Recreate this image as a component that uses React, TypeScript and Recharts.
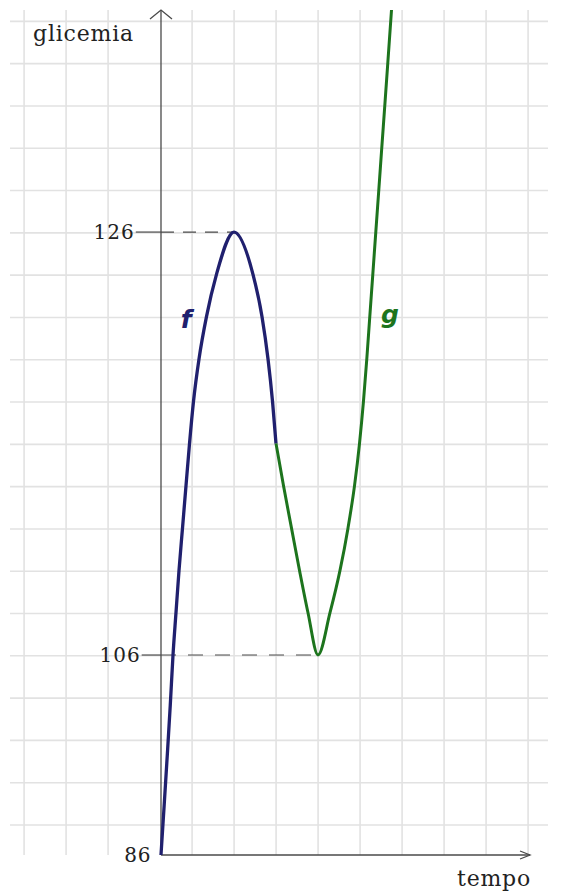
import {
  CartesianGrid,
  Line,
  LineChart,
  ReferenceDot,
  ReferenceLine,
  XAxis,
  YAxis,
} from "recharts";

// tempo in quadretti dall'asse y, glicemia
const fTempo = [0, 0.076, 0.15, 0.221, 0.286, 0.357, 0.429, 0.512, 0.595, 0.679, 0.774, 0.905, 1.083, 1.321, 1.738, 2.19, 2.405, 2.548, 2.655, 2.738];
const fGlicemia = [86, 91, 96, 101, 106, 108, 110, 112, 114, 116, 118, 120, 122, 124, 126, 124, 122, 120, 118, 116];

const gTempo = [2.738, 2.917, 3.107, 3.298, 3.5, 3.738, 4.024, 4.262, 4.452, 4.607, 4.726, 4.821, 4.9, 4.971, 5.043, 5.114, 5.186, 5.257, 5.329, 5.4, 5.488];
const gGlicemia = [116, 114, 112, 110, 108, 106, 108, 110, 112, 114, 116, 118, 120, 122, 124, 126, 128, 130, 132, 134, 136.5];

const yTicks = [86, 106, 126];
const massimo = { t: 1.738, g: 126 };
const minimo = { t: 3.738, g: 106 };

// the sketch's y axis is not linear: 86->106 is much shorter than 106->126
const toDisplay = (g: number) =>
  g <= 106 ? (g - 86) * 10 : 200 + (g - 106) * 21.15;

const W = 562;
const H = 891;
const X_MIN = -3.595;
const X_MAX = 9.214;
const Y_TOP = 845;
const AXIS_END = 8.786;

const gridCols = [-3.26, -2.26, -1.26, 0.74, 1.74, 2.74, 3.74, 4.74, 5.74, 6.74, 7.74, 8.74];
const gridRows: number[] = [];
for (let k = 0; k < 20; k++) gridRows.push(30 + 42.3 * k);

const stubStart: Record<number, number> = { 126: -0.6, 106: -0.46, 86: -0.2 };

const axisColor = "#4a4a4a";
const textColor = "#222";
const fColor = "#20206e";
const gColor = "#1d741d";

const Chevron = ({ cx, cy, dir }: any) => {
  const d =
    dir === "up"
      ? `M${cx - 11},${cy + 9} L${cx},${cy} L${cx + 11},${cy + 9}`
      : `M${cx - 10},${cy - 4} L${cx},${cy} L${cx - 10},${cy + 4}`;
  return <path d={d} fill="none" stroke={axisColor} strokeWidth={1.3} />;
};

export default function App() {
  const fData = fTempo.map((t, i) => ({ t, y: toDisplay(fGlicemia[i]) }));
  const gData = gTempo.map((t, i) => ({ t, y: toDisplay(gGlicemia[i]) }));

  return (
    <div
      style={{
        position: "absolute",
        left: 0,
        top: 0,
        width: W,
        height: H,
        background: "#fff",
        overflow: "hidden",
      }}
    >
      <LineChart
        width={W}
        height={H}
        margin={{ top: 10, right: 14, bottom: 36, left: 10 }}
      >
        <XAxis type="number" dataKey="t" domain={[X_MIN, X_MAX]} hide />
        <YAxis type="number" dataKey="y" domain={[0, Y_TOP]} hide />
        <CartesianGrid
          stroke="#e2e2e2"
          strokeWidth={1.6}
          verticalValues={gridCols}
          horizontalValues={gridRows}
        />

        {yTicks.map((v) => (
          <ReferenceLine
            key={"stub" + v}
            segment={[
              { x: stubStart[v], y: toDisplay(v) },
              { x: 0, y: toDisplay(v) },
            ]}
            stroke={v === 86 ? "none" : axisColor}
            strokeWidth={1.2}
            ifOverflow="visible"
            label={{
              value: String(v),
              position: "left",
              offset: 1,
              fill: textColor,
              fontSize: 20,
              letterSpacing: 1,
              fontFamily: "DejaVu Serif",
            }}
          />
        ))}
        <ReferenceLine
          segment={[
            { x: 0, y: toDisplay(massimo.g) },
            { x: massimo.t, y: toDisplay(massimo.g) },
          ]}
          stroke={axisColor}
          strokeWidth={1.2}
          strokeDasharray="13 9"
          ifOverflow="visible"
        />
        <ReferenceLine
          segment={[
            { x: 0, y: toDisplay(minimo.g) },
            { x: minimo.t, y: toDisplay(minimo.g) },
          ]}
          stroke={axisColor}
          strokeWidth={1.2}
          strokeDasharray="15 12"
          ifOverflow="visible"
        />

        <ReferenceLine
          segment={[{ x: 0, y: 0 }, { x: 0, y: Y_TOP }]}
          stroke={axisColor}
          strokeWidth={1.3}
          ifOverflow="visible"
        />
        <ReferenceLine
          segment={[{ x: 0, y: 0 }, { x: AXIS_END, y: 0 }]}
          stroke={axisColor}
          strokeWidth={1.3}
          ifOverflow="visible"
        />
        <ReferenceDot
          x={0}
          y={Y_TOP}
          ifOverflow="visible"
          shape={(p: any) => <Chevron {...p} dir="up" />}
        />
        <ReferenceDot
          x={AXIS_END}
          y={0}
          ifOverflow="visible"
          shape={(p: any) => <Chevron {...p} dir="right" />}
        />

        <Line
          data={fData}
          type="monotone"
          dataKey="y"
          stroke={fColor}
          strokeWidth={3.3}
          dot={false}
          isAnimationActive={false}
        />
        <Line
          data={gData}
          type="monotone"
          dataKey="y"
          stroke={gColor}
          strokeWidth={3}
          dot={false}
          isAnimationActive={false}
        />

        <ReferenceDot
          x={0.6}
          y={toDisplay(121.9)}
          r={0}
          fill="none"
          stroke="none"
          ifOverflow="visible"
          label={{
            value: "f",
            position: "center",
            fill: fColor,
            fontSize: 25,
            fontWeight: "bold",
            fontStyle: "italic",
            fontFamily: "DejaVu Sans",
          }}
        />
        <ReferenceDot
          x={5.45}
          y={toDisplay(122.1)}
          r={0}
          fill="none"
          stroke="none"
          ifOverflow="visible"
          label={{
            value: "g",
            position: "center",
            fill: gColor,
            fontSize: 25,
            fontWeight: "bold",
            fontStyle: "italic",
            fontFamily: "DejaVu Sans",
          }}
        />
      </LineChart>

      <div
        style={{
          position: "absolute",
          left: 33,
          top: 22,
          fontFamily: "DejaVu Serif",
          fontSize: 22,
          letterSpacing: 0.8,
          lineHeight: "24px",
          color: textColor,
        }}
      >
        glicemia
      </div>
      <div
        style={{
          position: "absolute",
          left: 457,
          top: 867,
          fontFamily: "DejaVu Serif",
          fontSize: 22,
          letterSpacing: 0.8,
          lineHeight: "24px",
          color: textColor,
        }}
      >
        tempo
      </div>
    </div>
  );
}
